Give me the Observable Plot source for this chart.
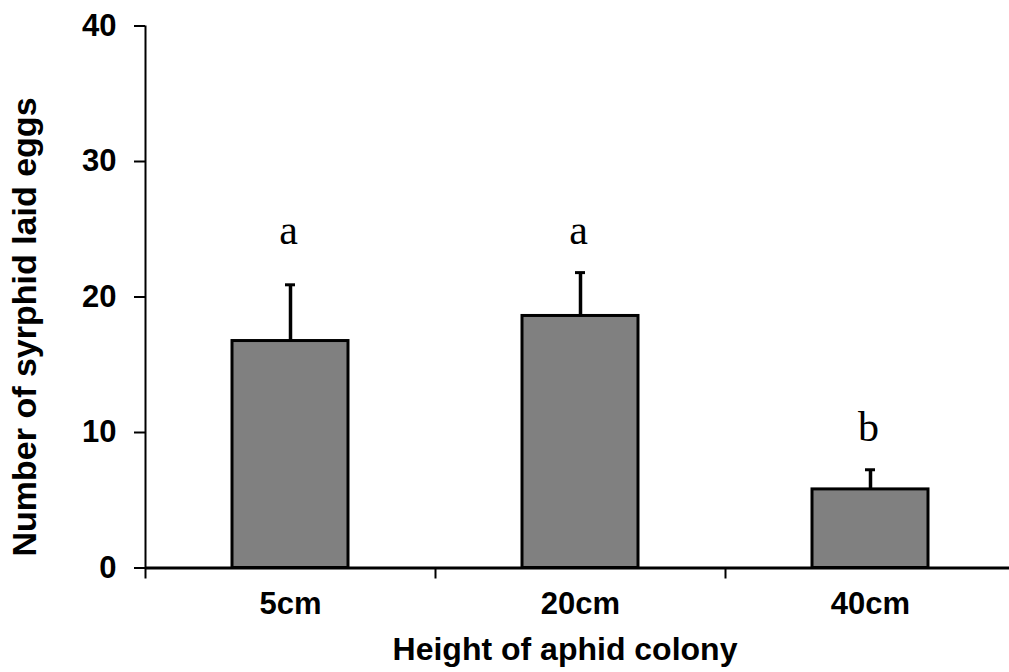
<!DOCTYPE html>
<html>
<head>
<meta charset="utf-8">
<script src="https://cdn.jsdelivr.net/npm/d3@7"></script>
<script src="https://cdn.jsdelivr.net/npm/@observablehq/plot@0.6"></script>
<style>
  html, body { margin: 0; padding: 0; background: #fff; }
  svg { display: block; }
</style>
</head>
<body>
<div id="chart"></div>
<script>
// Data
const categories = ["5cm", "20cm", "40cm"];
const means = [16.75, 18.6, 5.8];
const errors = [4.15, 3.2, 1.45];
const letters = ["a", "a", "b"];
const letterY = [23.9, 23.9, 9.35];
const yTicks = [0, 10, 20, 30, 40];
const xTitle = "Height of aphid colony";
const yTitle = "Number of syrphid laid eggs";

const data = categories.map((c, i) => ({
  cat: c,
  mean: means[i],
  top: means[i] + errors[i],
  letter: letters[i],
  ly: letterY[i]
}));

const xRange = [145, 1015];
const step = (xRange[1] - xRange[0]) / categories.length;

const chart = Plot.plot({
  width: 1009,
  height: 672,
  marginLeft: 145,
  marginRight: 0,
  marginTop: 25.5,
  marginBottom: 104.5,
  style: {
    fontFamily: "'Liberation Sans', Arial, sans-serif",
    fontSize: "30px",
    fontWeight: "bold",
    background: "white",
    color: "black",
    overflow: "visible"
  },
  x: {domain: categories, range: xRange, paddingInner: 0.6, paddingOuter: 0.3, axis: null},
  y: {domain: [0, 40], range: [567.5, 25.5], axis: null},
  marks: [
    // error bars
    Plot.ruleX(data, {x: "cat", y1: "mean", y2: "top", stroke: "black", strokeWidth: 3.5}),
    Plot.tickY(data, {x: "cat", y: "top", stroke: "black", strokeWidth: 3, insetLeft: 53, insetRight: 53}),
    // bars
    Plot.barY(data, {x: "cat", y: "mean", fill: "#808080", stroke: "black", strokeWidth: 3}),
    // y axis line
    Plot.ruleX([categories[0]], {y1: 0, y2: 40, dx: -step / 2, stroke: "black", strokeWidth: 2}),
    // x axis line
    Plot.ruleY([0], {stroke: "black", strokeWidth: 3}),
    // y axis ticks and labels
    Plot.axisY(yTicks, {tickSize: 11, tickPadding: 18, strokeWidth: 2, label: null, fontSize: 31, fontWeight: "bold"}),
    // x boundary ticks
    Plot.axisX({tickSize: 11, fill: "none", dx: -step / 2, strokeWidth: 2, label: null}),
    // x category labels
    Plot.axisX({tickSize: 0, tickPadding: 24, label: null, fontSize: 31, fontWeight: "bold"}),
    // significance letters
    Plot.text(data, {x: "cat", y: "ly", text: "letter", lineAnchor: "bottom", fontSize: 42, fontWeight: "normal",
      fontFamily: "'Liberation Serif', 'Times New Roman', serif", fill: "black", dx: -2}),
    // axis titles
    Plot.text([xTitle], {frameAnchor: "bottom", dx: -12.5, dy: 91.5, lineAnchor: "bottom", fontSize: 32, fontWeight: "bold", fill: "black"}),
    Plot.text([yTitle], {frameAnchor: "left", textAnchor: "middle", rotate: -90, dx: -120, dy: 30, lineAnchor: "middle", fontSize: 34, fontWeight: "bold", fill: "black"})
  ]
});

document.getElementById("chart").appendChild(chart);
</script>
</body>
</html>
